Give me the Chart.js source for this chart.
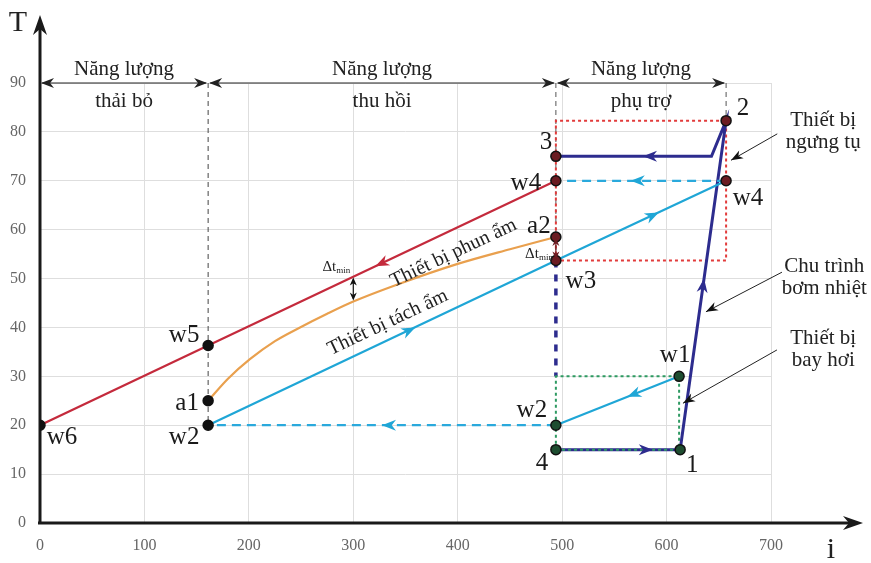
<!DOCTYPE html>
<html>
<head>
<meta charset="utf-8">
<script src="https://cdn.jsdelivr.net/npm/chart.js@4.4.1/dist/chart.umd.min.js"></script>
<style>
  body { margin: 0; background: #fff; }
</style>
</head>
<body>
<canvas id="bieuDo" width="871" height="563"></canvas>
<script>
// giá trị, dạng [i, T]
const khongKhiThai = [[0, 20], [161, 36.3], [494, 70]];              // w6 - w5 - w4
const khongKhiPhun = [[161, 25], [180, 29.5], [201, 33.5], [225, 37.2], [249, 40],
                      [275, 42.8], [300, 45.3], [345, 49], [400, 53], [450, 56], [494, 58.5]]; // a1 -> a2
const khongKhiTach = [[161, 20], [494, 53.7], [657, 70]];            // w2 - w3 - w4
const quaBayHoi = [[612, 30], [494, 20]];                            // w1 -> w2
const hoiVeNgungTu = [[657, 70], [494, 70]];                         // w4 -> w4
const hoiVeTachAm = [[494, 20], [161, 20]];                          // w2 -> w2
const chuTrinhBom = [[494, 15], [613, 15], [657, 82.3], [643, 75], [494, 75]]; // 4-1-2-3
const ranhGioi = [0, 161, 494, 657];
const tenVung = ['thải bỏ', 'thu hồi', 'phụ trợ'];
const xTicks = [0, 100, 200, 300, 400, 500, 600, 700];
const yTicks = [0, 10, 20, 30, 40, 50, 60, 70, 80, 90];

const diem = [
  ['w6', 0, 20, 'k'], ['w5', 161, 36.3, 'k'], ['a1', 161, 25, 'k'], ['w2', 161, 20, 'k'],
  ['3', 494, 75, 'r'], ['w4', 494, 70, 'r'], ['a2', 494, 58.5, 'r'], ['w3', 494, 53.7, 'r'],
  ['w2', 494, 20, 'g'], ['4', 494, 15, 'g'], ['1', 613, 15, 'g'], ['w1', 612, 30, 'g'],
  ['2', 657, 82.3, 'r'], ['w4', 657, 70, 'r']
];
const dtMin = [[300, 50.4, 45.3], [494, 58.5, 53.7]];

// vị trí chữ (lệch theo pixel so với điểm)
const lechNhan = [[22, 12], [-24, -10], [-21, 3], [-24, 12], [-10, -14], [-30, 3], [-17, -11],
                  [25, 21], [-24, -15], [-14, 14], [12, 16], [-4, -21], [17, -12], [22, 18]];

const xy = a => a.map(([x, y]) => ({ x, y }));
const mauDiem = { k: '#111', r: '#6b1c22', g: '#1d4d30' };

function duong(data, mau, rong, net) {
  return { data: xy(data), showLine: true, borderColor: mau, borderWidth: rong,
           borderDash: net || [], pointRadius: 0, fill: false };
}

function dauMui(ctx, x, y, goc, dai, rong, mau) {
  ctx.save();
  ctx.translate(x, y);
  ctx.rotate(goc);
  ctx.beginPath();
  ctx.moveTo(0, 0);
  ctx.lineTo(-dai, -rong);
  ctx.lineTo(-dai * 0.7, 0);
  ctx.lineTo(-dai, rong);
  ctx.closePath();
  ctx.fillStyle = mau;
  ctx.fill();
  ctx.restore();
}

const ve = {
  id: 've',
  beforeDatasetsDraw(c) {
    const ctx = c.ctx, a = c.chartArea;
    ctx.save();
    ctx.strokeStyle = '#1a1a1a';
    ctx.lineWidth = 3;
    ctx.beginPath();
    ctx.moveTo(a.left, a.bottom + 1);
    ctx.lineTo(a.left, a.top - 60);
    ctx.moveTo(a.left - 2, a.bottom);
    ctx.lineTo(a.right + 84, a.bottom);
    ctx.stroke();
    dauMui(ctx, a.left, a.top - 68, -Math.PI / 2, 20, 7, '#1a1a1a');
    dauMui(ctx, a.right + 92, a.bottom, 0, 20, 7, '#1a1a1a');
    ctx.fillStyle = '#222';
    ctx.font = '30px "Liberation Serif", serif';
    ctx.textAlign = 'center';
    ctx.textBaseline = 'middle';
    ctx.fillText('T', a.left - 22, a.top - 60);
    ctx.fillText('i', a.right + 60, a.bottom + 27);
    ctx.restore();
  },
  afterDatasetsDraw(c) {
    const ctx = c.ctx, sx = c.scales.x, sy = c.scales.y;
    const P = (x, y) => [sx.getPixelForValue(x), sy.getPixelForValue(y)];
    ctx.save();

    // vùng năng lượng
    ctx.strokeStyle = '#222';
    ctx.lineWidth = 1;
    for (let i = 0; i < tenVung.length; i++) {
      const [x0, y0] = P(ranhGioi[i], 90), [x1] = P(ranhGioi[i + 1], 90);
      ctx.beginPath(); ctx.moveTo(x0 + 2, y0); ctx.lineTo(x1 - 2, y0); ctx.stroke();
      dauMui(ctx, x0 + 1, y0, Math.PI, 13, 5, '#222');
      dauMui(ctx, x1 - 1, y0, 0, 13, 5, '#222');
      const [xm, yt] = P((ranhGioi[i] + ranhGioi[i + 1]) / 2, 90);
      ctx.fillStyle = '#222';
      ctx.font = '21px "Liberation Serif", serif';
      ctx.textAlign = 'center';
      ctx.textBaseline = 'middle';
      ctx.fillText('Năng lượng', xm, yt - 14);
      ctx.fillText(tenVung[i], xm, yt + 18);
    }

    // mũi tên chiều dòng
    const muiTen = [
      [khongKhiThai[2], khongKhiThai[0], 0.35, '#c42a3c'],
      [khongKhiTach[0], khongKhiTach[2], 0.4, '#1fa6d6'],
      [khongKhiTach[0], khongKhiTach[2], 0.87, '#1fa6d6'],
      [quaBayHoi[0], quaBayHoi[1], 0.42, '#1fa6d6'],
      [hoiVeNgungTu[0], hoiVeNgungTu[1], 0.56, '#1fa6d6'],
      [hoiVeTachAm[0], hoiVeTachAm[1], 0.5, '#1fa6d6'],
      [chuTrinhBom[0], chuTrinhBom[1], 0.78, '#2d2c8e'],
      [chuTrinhBom[1], chuTrinhBom[2], 0.52, '#2d2c8e'],
      [chuTrinhBom[3], chuTrinhBom[4], 0.44, '#2d2c8e']
    ];
    muiTen.forEach(([p0, p1, t, mau]) => {
      const [x0, y0] = P(p0[0], p0[1]), [x1, y1] = P(p1[0], p1[1]);
      dauMui(ctx, x0 + (x1 - x0) * t, y0 + (y1 - y0) * t, Math.atan2(y1 - y0, x1 - x0), 14, 5.5, mau);
    });

    // Δt min
    dtMin.forEach(([x, t1, t2], i) => {
      const [xa, ya] = P(x, t1), [, yb] = P(x, t2);
      const mau = i === 0 ? '#111' : '#6b1c22';
      ctx.strokeStyle = mau; ctx.lineWidth = 1.2;
      ctx.beginPath(); ctx.moveTo(xa, ya + 3); ctx.lineTo(xa, yb - 3); ctx.stroke();
      dauMui(ctx, xa, ya + 1, -Math.PI / 2, 8, 3.5, mau);
      dauMui(ctx, xa, yb - 1, Math.PI / 2, 8, 3.5, mau);
      const yChu = i === 0 ? ya - 6 : yb - 2;
      ctx.fillStyle = '#222';
      ctx.textBaseline = 'alphabetic';
      ctx.textAlign = 'right';
      ctx.font = '9px "Liberation Serif", serif';
      ctx.fillText('min', xa - 3, yChu + 2);
      const w = ctx.measureText('min').width;
      ctx.font = '15px "Liberation Serif", serif';
      ctx.fillText('Δt', xa - 3 - w, yChu);
    });

    // chữ nghiêng theo đường
    const chuNghieng = [
      ['Thiết bị phun ẩm', 396, 55.2, khongKhiThai[0], khongKhiThai[2]],
      ['Thiết bị tách ẩm', 333, 41, khongKhiTach[0], khongKhiTach[2]]
    ];
    chuNghieng.forEach(([s, x, y, p0, p1]) => {
      const [cx, cy] = P(x, y), [x0, y0] = P(p0[0], p0[1]), [x1, y1] = P(p1[0], p1[1]);
      ctx.save();
      ctx.translate(cx, cy);
      ctx.rotate(Math.atan2(y1 - y0, x1 - x0));
      ctx.fillStyle = '#222';
      ctx.font = '20px "Liberation Serif", serif';
      ctx.textAlign = 'center';
      ctx.textBaseline = 'middle';
      ctx.fillText(s, 0, 0);
      ctx.restore();
    });

    // tên điểm
    ctx.fillStyle = '#1a1a1a';
    ctx.font = '25px "Liberation Serif", serif';
    ctx.textAlign = 'center';
    ctx.textBaseline = 'middle';
    diem.forEach(([ten, x, y], i) => {
      const [px, py] = P(x, y);
      ctx.fillText(ten, px + lechNhan[i][0], py + lechNhan[i][1]);
    });

    // chú thích thiết bị
    const chuThich = [
      [['Thiết bị', 'ngưng tụ'], 750, 82.4, [706, 79.6], [661.7, 74.2]],
      [['Chu trình', 'bơm nhiệt'], 751, 52.4, [710.5, 51.3], [637.7, 43.2]],
      [['Thiết bị', 'bay hơi'], 750, 37.8, [705.7, 35.4], [615.7, 24.5]]
    ];
    chuThich.forEach(([dong, x, y, tu, den]) => {
      const [cx, cy] = P(x, y);
      ctx.fillStyle = '#222';
      ctx.font = '21px "Liberation Serif", serif';
      ctx.textAlign = 'center';
      ctx.fillText(dong[0], cx, cy);
      ctx.fillText(dong[1], cx, cy + 22);
      const [x0, y0] = P(tu[0], tu[1]), [x1, y1] = P(den[0], den[1]);
      ctx.strokeStyle = '#222'; ctx.lineWidth = 1;
      ctx.beginPath(); ctx.moveTo(x0, y0); ctx.lineTo(x1, y1); ctx.stroke();
      dauMui(ctx, x1, y1, Math.atan2(y1 - y0, x1 - x0), 12, 4.5, '#111');
    });
    ctx.restore();
  }
};

const cong = duong(khongKhiPhun, '#e9a04e', 2.2);
cong.tension = 0.4;
cong.cubicInterpolationMode = 'monotone';

new Chart(document.getElementById('bieuDo'), {
  type: 'scatter',
  data: {
    datasets: [
      { data: diem.map(([, x, y]) => ({ x, y })), pointRadius: 5, borderWidth: 1.5,
        pointBorderColor: '#111', pointBackgroundColor: diem.map(d => mauDiem[d[3]]), showLine: false },
      duong(quaBayHoi, '#1fa6d6', 2.2),
      duong(khongKhiThai, '#c42a3c', 2.2),
      cong,
      duong(khongKhiTach, '#1fa6d6', 2.2),
      duong(hoiVeNgungTu, '#2aa9dc', 2.2, [9, 6]),
      duong(hoiVeTachAm, '#2aa9dc', 2.2, [9, 6]),
      duong([[494, 15], [494, 30], [612, 30], [612, 15], [494, 15]], '#2e9a62', 2, [3, 3]),
      duong(chuTrinhBom, '#2d2c8e', 3),
      duong([[494, 53.7], [494, 30]], '#2d2c8e', 3.5, [7, 7]),
      duong([[494, 53.7], [494, 82.3], [657, 82.3], [657, 53.7], [494, 53.7]], '#e23b3b', 2, [3, 3]),
      duong([[161, 90], [161, 20]], '#444', 1, [5, 4]),
      duong([[494, 90], [494, 53.7]], '#555', 1, [5, 4]),
      duong([[657, 90], [657, 82.3]], '#555', 1, [5, 4])
    ]
  },
  options: {
    responsive: false,
    animation: false,
    devicePixelRatio: 1,
    layout: { padding: { left: 0, right: 100, top: 83, bottom: 0 } },
    plugins: { legend: { display: false }, tooltip: { enabled: false } },
    scales: {
      x: {
        type: 'linear', min: 0, max: 700,
        afterBuildTicks: s => { s.ticks = xTicks.map(v => ({ value: v })); },
        afterFit: s => { s.height = 40; },
        grid: { color: '#dedede', lineWidth: 1, drawTicks: false },
        border: { display: false },
        ticks: { padding: 13, color: '#666', font: { family: '"Liberation Serif", serif', size: 16 } }
      },
      y: {
        type: 'linear', min: 0, max: 90,
        afterBuildTicks: s => { s.ticks = yTicks.map(v => ({ value: v })); },
        afterFit: s => { s.width = 40; },
        grid: { color: '#dedede', lineWidth: 1, drawTicks: false },
        border: { display: false },
        ticks: { padding: 14, color: '#666', font: { family: '"Liberation Serif", serif', size: 16 } }
      }
    }
  },
  plugins: [ve]
});
</script>
</body>
</html>
